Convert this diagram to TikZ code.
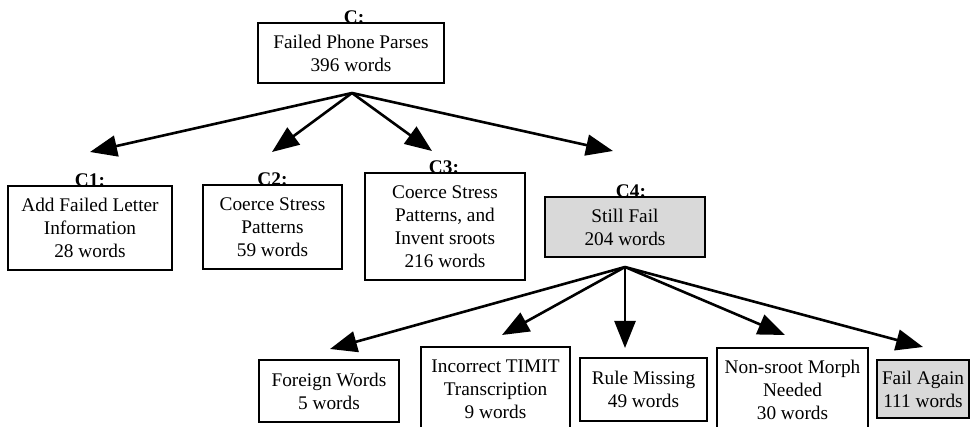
\documentclass[tikz,border=0pt]{standalone}
\usepackage{fontspec}
\setmainfont{Liberation Serif}
\usetikzlibrary{arrows.meta}
\begin{document}
\begin{tikzpicture}[x=1pt,y=-1pt,
  box/.style={draw, line width=2.1pt, align=center, inner sep=0pt,
              font=\fontsize{19.3}{23}\selectfont},
  shaded/.style={box, fill=black!15},
  tag/.style={anchor=base, inner sep=0pt, font=\fontsize{19.3}{23}\selectfont\bfseries},
  link/.style={line width=2.6pt, -{Triangle[length=27pt,width=21pt]}}]
\useasboundingbox (0,0) rectangle (972,427);
\clip (0,0) rectangle (972,427);

% top level
\node[box, minimum width=186pt, minimum height=60pt] (c) at (351,53)
  {Failed Phone Parses\\396 words};
\node[tag] (lc) at (354,24) {C:};

% first split
\node[box, minimum width=164pt, minimum height=84pt] (c1) at (90,228)
  {Add Failed Letter\\Information\\28 words};
\node[tag] (lc1) at (90,187) {C1:};
\node[box, minimum width=139pt, minimum height=84pt] (c2) at (272.5,227)
  {Coerce Stress\\Patterns\\59 words};
\node[tag] (lc2) at (272.5,186) {C2:};
\node[box, minimum width=160pt, minimum height=107pt] (c3) at (445,226.5)
  {Coerce Stress\\Patterns, and\\Invent sroots\\216 words};
\node[tag] (lc3) at (444,174) {C3:};
\node[shaded, minimum width=160pt, minimum height=60pt] (c4) at (625,227)
  {Still Fail\\204 words};
\node[tag] (lc4) at (631,198) {C4:};

\coordinate (ca) at (352,93);
\coordinate (t1) at (90,152);
\coordinate (t2) at (272,152);
\coordinate (t3) at (432,151);
\coordinate (t4) at (613,151);
\draw[link] (ca) -- (t1);
\draw[link] (ca) -- (t2);
\draw[link] (ca) -- (t3);
\draw[link] (ca) -- (t4);

% second split
\node[box, minimum width=140pt, minimum height=62pt] (d1) at (329,391)
  {Foreign Words\\5 words};
\node[box, minimum width=149pt, minimum height=85pt] (d2) at (495.5,389.5)
  {Incorrect TIMIT\\Transcription\\9 words};
\node[box, minimum width=127pt, minimum height=63pt] (d3) at (643.5,389.5)
  {Rule Missing\\49 words};
\node[box, minimum width=151pt, minimum height=84pt] (d4) at (792.5,390)
  {Non-sroot Morph\\Needed\\30 words};
\node[shaded, minimum width=92pt, minimum height=58pt] (d5) at (923,389)
  {Fail Again\\111 words};

\coordinate (da) at (625,267);
\coordinate (s1) at (330,349);
\coordinate (s2) at (502,335);
\coordinate (s3) at (625,348);
\coordinate (s4) at (785,335);
\coordinate (s5) at (923,347);
\draw[link] (da) -- (s1);
\draw[link] (da) -- (s2);
\draw[link] (da) -- (s3);
\draw[link] (da) -- (s4);
\draw[link] (da) -- (s5);
\end{tikzpicture}
\end{document}
